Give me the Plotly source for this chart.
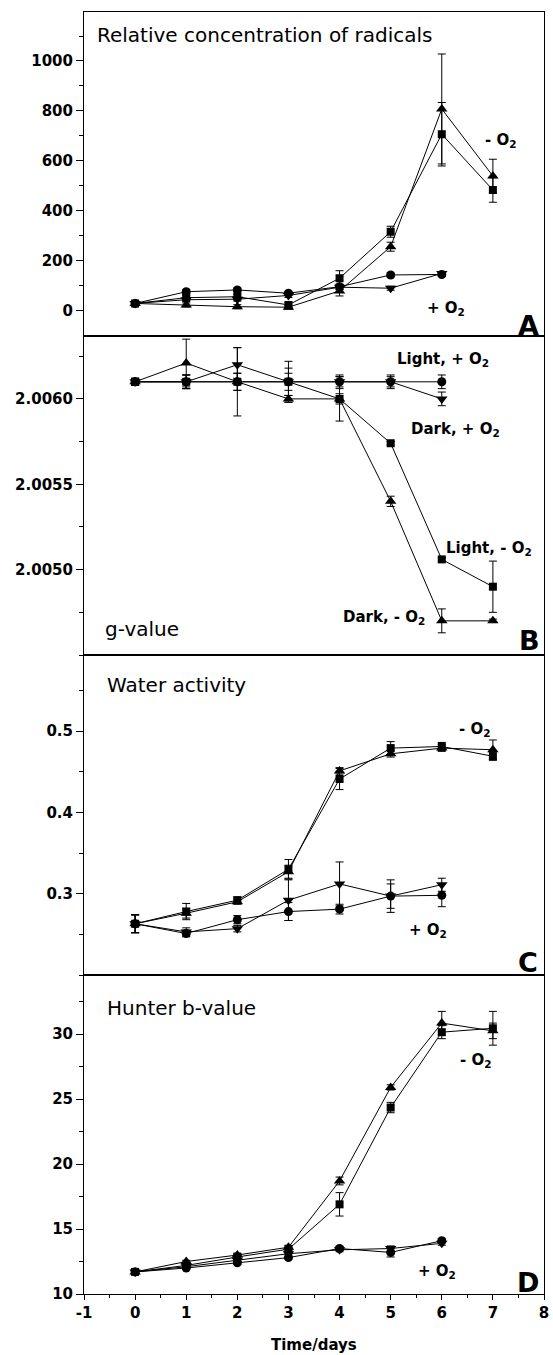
import plotly.graph_objects as go
from plotly.subplots import make_subplots

# ---------------- data ----------------
days = [0, 1, 2, 3, 4, 5, 6, 7]
days_plus = [0, 1, 2, 3, 4, 5, 6]

# Panel A: relative concentration of radicals
rad_light_minus = [30, 53, 57, 24, 131, 317, 707, 484]
rad_light_minus_err = [5, 10, 10, 10, 30, 22, 127, 49]
rad_dark_minus = [30, 24, 17, 15, 80, 257, 808, 540]
rad_dark_minus_err = [5, 8, 8, 8, 20, 18, 220, 67]
rad_light_plus = [30, 77, 84, 71, 97, 144, 146]
rad_light_plus_err = [5, 8, 8, 8, 10, 8, 8]
rad_dark_plus = [30, 45, 47, 62, 95, 91, 150]
rad_dark_plus_err = [5, 8, 8, 8, 10, 8, 8]

# Panel B: g-value
g_light_minus = [2.0061, 2.0061, 2.0061, 2.0061, 2.0060, 2.00574, 2.00506, 2.00490]
g_light_minus_err = [0.00002, 0.00004, 0.00005, 0.00005, 0.00013, 0.00001, 0.00001, 0.00015]
g_dark_minus = [2.0061, 2.00621, 2.0061, 2.0060, 2.0060, 2.00540, 2.00470, 2.00470]
g_dark_minus_err = [0.00002, 0.00014, 0.0002, 0.00002, 0.00003, 0.00003, 0.00007, 0.00001]
g_light_plus = [2.0061, 2.0061, 2.0061, 2.0061, 2.0061, 2.0061, 2.0061]
g_light_plus_err = [0.00002, 0.00004, 0.00005, 0.00012, 0.00004, 0.00004, 0.00004]
g_dark_plus = [2.0061, 2.0061, 2.0062, 2.0061, 2.0061, 2.0061, 2.0060]
g_dark_plus_err = [0.00002, 0.00004, 0.0001, 0.00008, 0.00003, 0.00003, 0.00004]

# Panel C: water activity
aw_light_minus = [0.263, 0.278, 0.292, 0.330, 0.441, 0.479, 0.481, 0.469]
aw_light_minus_err = [0.011, 0.010, 0.004, 0.012, 0.013, 0.008, 0.005, 0.005]
aw_dark_minus = [0.263, 0.276, 0.290, 0.327, 0.451, 0.472, 0.479, 0.477]
aw_dark_minus_err = [0.011, 0.006, 0.003, 0.008, 0.004, 0.004, 0.004, 0.012]
aw_light_plus = [0.263, 0.251, 0.268, 0.278, 0.281, 0.297, 0.298]
aw_light_plus_err = [0.011, 0.004, 0.005, 0.011, 0.006, 0.020, 0.014]
aw_dark_plus = [0.263, 0.253, 0.257, 0.292, 0.312, 0.297, 0.311]
aw_dark_plus_err = [0.011, 0.005, 0.004, 0.025, 0.027, 0.015, 0.008]

# Panel D: Hunter b-value
hb_light_minus = [11.7, 12.2, 12.85, 13.45, 16.9, 24.35, 30.15, 30.45]
hb_light_minus_err = [0.1, 0.1, 0.15, 0.15, 0.9, 0.4, 0.5, 1.3]
hb_dark_minus = [11.7, 12.5, 13.0, 13.6, 18.7, 25.9, 30.85, 30.25]
hb_dark_minus_err = [0.1, 0.1, 0.15, 0.15, 0.3, 0.2, 0.9, 0.6]
hb_light_plus = [11.7, 12.0, 12.4, 12.8, 13.5, 13.2, 14.1]
hb_light_plus_err = [0.1, 0.1, 0.1, 0.1, 0.15, 0.35, 0.15]
hb_dark_plus = [11.7, 12.1, 12.6, 13.1, 13.4, 13.5, 13.9]
hb_dark_plus_err = [0.1, 0.1, 0.1, 0.1, 0.15, 0.2, 0.15]

x_ticks = [-1, 0, 1, 2, 3, 4, 5, 6, 7, 8]
x_tick_labels = ["-1", "0", "1", "2", "3", "4", "5", "6", "7", "8"]
a_ticks = [0, 200, 400, 600, 800, 1000]
b_ticks = [2.0050, 2.0055, 2.0060]
c_ticks = [0.3, 0.4, 0.5]
d_ticks = [10, 15, 20, 25, 30]

# ---------------- figure ----------------
W, H = 553, 1355
ML, MR, MT, MB = 84, 4, 12, 61
PW, PH = W - ML - MR, H - MT - MB
BOTTOM = H - MB

fig = make_subplots(rows=4, cols=1, shared_xaxes=True, vertical_spacing=0)

FONT = "DejaVu Sans"


def add_panel(row, series):
    for x, y, e, sym, size in series:
        fig.add_trace(go.Scatter(
            x=x, y=y, mode="lines+markers",
            marker=dict(symbol=sym, size=size, color="black", line=dict(width=0)),
            line=dict(color="black", width=1),
            error_y=dict(type="data", array=e, color="black", thickness=1, width=4),
            showlegend=False, hoverinfo="skip"), row=row, col=1)


add_panel(1, [
    (days_plus, rad_dark_plus, rad_dark_plus_err, "triangle-down", 10),
    (days_plus, rad_light_plus, rad_light_plus_err, "circle", 9),
    (days, rad_dark_minus, rad_dark_minus_err, "triangle-up", 10),
    (days, rad_light_minus, rad_light_minus_err, "square", 8),
])
add_panel(2, [
    (days_plus, g_dark_plus, g_dark_plus_err, "triangle-down", 10),
    (days_plus, g_light_plus, g_light_plus_err, "circle", 9),
    (days, g_dark_minus, g_dark_minus_err, "triangle-up", 10),
    (days, g_light_minus, g_light_minus_err, "square", 8),
])
add_panel(3, [
    (days_plus, aw_dark_plus, aw_dark_plus_err, "triangle-down", 10),
    (days_plus, aw_light_plus, aw_light_plus_err, "circle", 9),
    (days, aw_dark_minus, aw_dark_minus_err, "triangle-up", 10),
    (days, aw_light_minus, aw_light_minus_err, "square", 8),
])
add_panel(4, [
    (days_plus, hb_dark_plus, hb_dark_plus_err, "triangle-down", 10),
    (days_plus, hb_light_plus, hb_light_plus_err, "circle", 9),
    (days, hb_dark_minus, hb_dark_minus_err, "triangle-up", 10),
    (days, hb_light_minus, hb_light_minus_err, "square", 8),
])


def py(px):
    return (BOTTOM - px) / PH


def pxx(px):
    return (px - ML) / PW


bounds = [12, 335.7, 655, 975, BOTTOM]
tickfont = dict(family=FONT, size=15, color="black", weight="bold")

yspecs = [
    dict(range=[-99, 1196], tickvals=a_ticks, minor=dict(tickmode="linear", tick0=0, dtick=100)),
    dict(range=[2.0045, 2.00637], tickvals=b_ticks, tickformat=".4f",
         minor=dict(tickmode="linear", tick0=2.0045, dtick=0.00025)),
    dict(range=[0.2, 0.5935], tickvals=c_ticks, tickformat=".1f",
         minor=dict(tickmode="linear", tick0=0.2, dtick=0.05)),
    dict(range=[10, 34.55], tickvals=d_ticks, minor=dict(tickmode="linear", tick0=10, dtick=2.5)),
]

for i in range(4):
    top_px, bot_px = bounds[i], bounds[i + 1]
    spec = yspecs[i]
    minor = dict(spec.pop("minor"))
    minor.update(ticks="outside", ticklen=4, tickcolor="black", tickwidth=1, showgrid=False)
    name = "yaxis" if i == 0 else f"yaxis{i + 1}"
    fig.layout[name].update(
        domain=[py(bot_px), py(top_px)], tickmode="array",
        showline=True, mirror=True, linecolor="black", linewidth=1,
        ticks="outside", ticklen=7, tickwidth=1, tickcolor="black",
        showgrid=False, zeroline=False, tickfont=tickfont, minor=minor, **spec)
    xname = "xaxis" if i == 0 else f"xaxis{i + 1}"
    fig.layout[xname].update(
        range=[-1, 8], showline=True, mirror=True, linecolor="black", linewidth=1,
        showgrid=False, zeroline=False)

fig.layout["xaxis4"].update(
    tickmode="array", tickvals=x_ticks, ticktext=x_tick_labels,
    ticks="outside", ticklen=5, tickwidth=1,
    tickcolor="black", tickfont=tickfont, showticklabels=True,
    ticklabeloverflow="allow",
    minor=dict(tickmode="linear", tick0=-0.5, dtick=1, ticks="outside", ticklen=3,
               tickcolor="black", tickwidth=1, showgrid=False))
for n in ["xaxis", "xaxis2", "xaxis3"]:
    fig.layout[n].update(ticks="", showticklabels=False)

ann = []


def add_text(text, xpx, ypx, size=15, bold=True, xanchor="left"):
    ann.append(dict(
        text=text, x=pxx(xpx), y=py(ypx), xref="paper", yref="paper",
        xanchor=xanchor, yanchor="middle", showarrow=False,
        font=dict(family=FONT, size=size, color="black", weight="bold" if bold else "normal")))


# Panel A
add_text("Relative concentration of radicals", 95, 35, size=20, bold=False)
add_text("- O<sub>2</sub>", 487, 140)
add_text("+ O<sub>2</sub>", 429, 309)
add_text("A", 546, 325, size=27, xanchor="right")
# Panel B
add_text("Light, + O<sub>2</sub>", 398, 360)
add_text("Dark, + O<sub>2</sub>", 413, 429)
add_text("Light, - O<sub>2</sub>", 448, 548)
add_text("Dark, - O<sub>2</sub>", 344, 617)
add_text("g-value", 103, 629, size=20, bold=False)
add_text("B", 547, 640, size=27, xanchor="right")
# Panel C
add_text("Water activity", 105, 685, size=20, bold=False)
add_text("- O<sub>2</sub>", 461, 729)
add_text("+ O<sub>2</sub>", 411, 930)
add_text("C", 545, 962, size=27, xanchor="right")
# Panel D
add_text("Hunter b-value", 105, 1008, size=20, bold=False)
add_text("- O<sub>2</sub>", 462, 1060)
add_text("+ O<sub>2</sub>", 420, 1271)
add_text("D", 546, 1282, size=27, xanchor="right")
# x title
add_text("Time/days", 317, 1345, xanchor="center")

fig.update_layout(
    width=W, height=H, margin=dict(l=ML, r=MR, t=MT, b=MB),
    paper_bgcolor="white", plot_bgcolor="white",
    annotations=ann, showlegend=False,
    font=dict(family=FONT, color="black"))

fig.write_html("out.html")
